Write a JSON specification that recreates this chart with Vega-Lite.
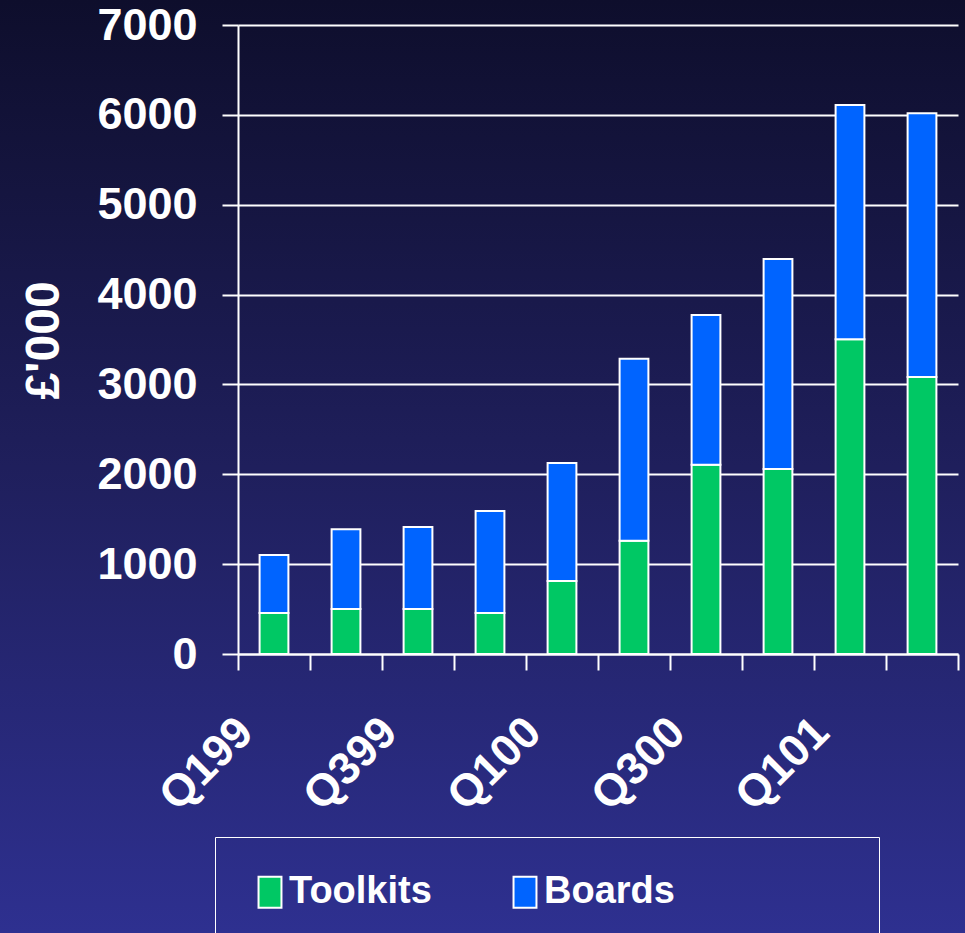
{
  "$schema": "https://vega.github.io/schema/vega-lite/v6.json",
  "width": 965,
  "height": 933,
  "autosize": {"type": "none"},
  "padding": 0,
  "background": "#1f1f5e",
  "view": {
    "stroke": null,
    "fill": {
      "gradient": "linear",
      "x1": 0, "y1": 0, "x2": 0, "y2": 1,
      "stops": [
        {"offset": 0, "color": "#0e0e2c"},
        {"offset": 0.5, "color": "#1f1f5c"},
        {"offset": 1, "color": "#2e3090"}
      ]
    }
  },
  "data": {
    "values": [
      {"quarter": "Q199", "product": "Toolkits", "value": 456},
      {"quarter": "Q199", "product": "Boards", "value": 646},
      {"quarter": "Q299", "product": "Toolkits", "value": 501},
      {"quarter": "Q299", "product": "Boards", "value": 887},
      {"quarter": "Q399", "product": "Toolkits", "value": 501},
      {"quarter": "Q399", "product": "Boards", "value": 912},
      {"quarter": "Q499", "product": "Toolkits", "value": 456},
      {"quarter": "Q499", "product": "Boards", "value": 1135},
      {"quarter": "Q100", "product": "Toolkits", "value": 812},
      {"quarter": "Q100", "product": "Boards", "value": 1313},
      {"quarter": "Q200", "product": "Toolkits", "value": 1260},
      {"quarter": "Q200", "product": "Boards", "value": 2026},
      {"quarter": "Q300", "product": "Toolkits", "value": 2105},
      {"quarter": "Q300", "product": "Boards", "value": 1668},
      {"quarter": "Q400", "product": "Toolkits", "value": 2060},
      {"quarter": "Q400", "product": "Boards", "value": 2336},
      {"quarter": "Q101", "product": "Toolkits", "value": 3502},
      {"quarter": "Q101", "product": "Boards", "value": 2608},
      {"quarter": "Q201", "product": "Toolkits", "value": 3083},
      {"quarter": "Q201", "product": "Boards", "value": 2934}
    ]
  },
  "mark": {"type": "bar", "stroke": "white", "strokeWidth": 2},
  "encoding": {
    "x": {
      "field": "quarter",
      "type": "nominal",
      "sort": null,
      "scale": {"range": [238, 958], "paddingInner": 0.6, "paddingOuter": 0.3},
      "axis": {
        "title": null,
        "offset": -279,
        "bandPosition": 2.5,
        "tickExtra": true,
        "tickOffset": -21.6,
        "tickSize": 16,
        "tickColor": "white",
        "tickWidth": 2,
        "domainColor": "white",
        "domainWidth": 2,
        "grid": false,
        "labelAngle": -45,
        "labelColor": "white",
        "labelFont": "Liberation Sans",
        "labelFontWeight": "bold",
        "labelFontSize": 45,
        "labelPadding": 39,
        "labelOffset": -23,
        "labelOverlap": false,
        "labelExpr": "indexof(['Q199','Q399','Q100','Q300','Q101'], datum.value) >= 0 ? datum.label : ''"
      }
    },
    "y": {
      "field": "value",
      "type": "quantitative",
      "stack": "zero",
      "scale": {"domain": [0, 7000], "range": [654, 25], "nice": false},
      "axis": {
        "title": "£'000",
        "offset": -238,
        "values": [0, 1000, 2000, 3000, 4000, 5000, 6000, 7000],
        "format": "d",
        "grid": true,
        "gridColor": "white",
        "gridWidth": 2,
        "gridOpacity": 1,
        "tickSize": 16,
        "tickColor": "white",
        "tickWidth": 2,
        "domainColor": "white",
        "domainWidth": 2,
        "labelColor": "white",
        "labelFont": "Liberation Sans",
        "labelFontWeight": "bold",
        "labelFontSize": 45,
        "labelPadding": 25,
        "titleColor": "white",
        "titleFont": "Liberation Sans",
        "titleFontWeight": "bold",
        "titleFontSize": 48,
        "titleAngle": -90,
        "titleAlign": "center",
        "titleBaseline": "alphabetic",
        "titleX": -180,
        "titleY": 340
      }
    },
    "color": {
      "field": "product",
      "type": "nominal",
      "scale": {"domain": ["Toolkits", "Boards"], "range": ["#00c864", "#0064ff"]},
      "legend": {
        "orient": "none",
        "legendX": 215,
        "legendY": 837,
        "direction": "horizontal",
        "title": null,
        "padding": 36,
        "strokeColor": "white",
        "symbolType": "M-0.74,-1L0.74,-1L0.74,1L-0.74,1Z",
        "symbolSize": 961,
        "symbolStrokeColor": "white",
        "symbolStrokeWidth": 2,
        "symbolOpacity": 1,
        "labelColor": "white",
        "labelFont": "Liberation Sans",
        "labelFontWeight": "bold",
        "labelFontSize": 38,
        "labelOffset": 0,
        "labelLimit": 800,
        "columnPadding": 74,
        "labelExpr": "datum.label + (datum.value == 'Boards' ? '\u2800\u2800\u2800\u2800\u2800\u2800' : '')"
      }
    },
    "order": {"field": "product", "sort": "descending"}
  }
}
